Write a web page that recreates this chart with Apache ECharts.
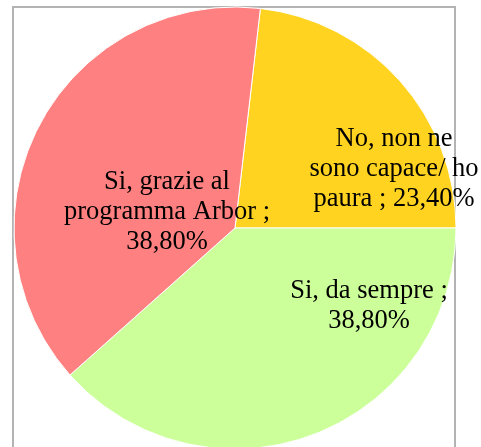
<!DOCTYPE html>
<html>
<head>
<meta charset="utf-8">
<script src="https://cdn.jsdelivr.net/npm/echarts@6/dist/echarts.min.js"></script>
<style>
  html, body { margin: 0; padding: 0; background: #fff; }
  #chart { width: 481px; height: 447px; }
</style>
</head>
<body>
<div id="chart"></div>
<script>
// risposte e percentuali
var categories = [
  "No, non ne\nsono capace/ ho\npaura",
  "Si, da sempre",
  "Si, grazie al\nprogramma Arbor"
];
var values = [23.4, 38.8, 38.8];
var valueLabels = ["23,40%", "38,80%", "38,80%"];
var colors = ["#FFD320", "#CCFF99", "#FF8080"];

// posizioni etichette (centro del blocco di testo)
var labelPos = [
  [394, 169],
  [369, 306],
  [167, 212]
];

var chart = echarts.init(document.getElementById("chart"));

chart.setOption({
  animation: false,
  graphic: [
    {
      type: "rect",
      z: 0,
      shape: { x: 13, y: 7, width: 442, height: 470 },
      style: { fill: "none", stroke: "#b3b3b3", lineWidth: 2 }
    }
  ],
  series: [
    {
      type: "pie",
      z: 5,
      center: [235, 228],
      radius: 221,
      startAngle: 83.4,
      clockwise: true,
      itemStyle: {
        borderColor: "#ffffff",
        borderWidth: 1
      },
      label: {
        show: true,
        position: "inside",
        color: "#000",
        fontFamily: "Liberation Serif",
        fontSize: 26.5,
        lineHeight: 30,
        align: "center",
        formatter: function (p) {
          var name = categories[p.dataIndex];
          var pct = valueLabels[p.dataIndex];
          if (p.dataIndex === 0) return name + " ; " + pct;
          return name + " ;\n" + pct;
        }
      },
      labelLine: { show: false },
      labelLayout: function (params) {
        var pos = labelPos[params.dataIndex];
        return { x: pos[0], y: pos[1], align: "center", verticalAlign: "middle" };
      },
      emphasis: { disabled: true },
      data: categories.map(function (c, i) {
        return { name: c, value: values[i], itemStyle: { color: colors[i] } };
      })
    }
  ]
});
</script>
</body>
</html>
